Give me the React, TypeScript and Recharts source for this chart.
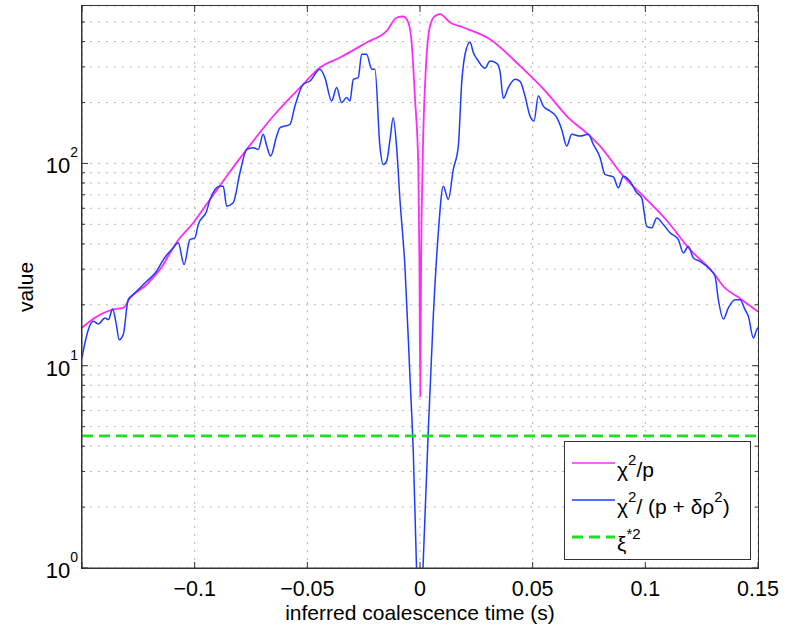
import React from 'react';
import { LineChart, Line, XAxis, YAxis, CartesianGrid, Label } from 'recharts';

// chi^2/p  (magenta)
const magentaX = [
  -0.15, -0.1465, -0.1368, -0.1317, -0.1287, -0.1213, -0.1154, -0.108, -0.1006, -0.0932,
  -0.0858, -0.0769, -0.0651, -0.0518, -0.0444, -0.0355, -0.0237, -0.0148, -0.0103, -0.0074,
  -0.0052, -0.0037, -0.0022, -0.00075, -0.00027, 0.00013, 0.00049, 0.00084, 0.00146, 0.00266,
  0.00444, 0.00666, 0.00888, 0.01332, 0.01922, 0.03107, 0.04439, 0.05624, 0.06511, 0.07546,
  0.07989, 0.09023, 0.10062, 0.1095, 0.11984, 0.13018, 0.13462, 0.14203, 0.15,
];
const magentaY = [
  15.4, 16.6, 18.9, 19.3, 21.6, 25.2, 29.9, 40.8, 50.9, 66.3,
  86.5, 117.3, 171.5, 246.1, 297.7, 333.7, 395.9, 451.9, 526.3, 532.3,
  497.2, 395.9, 207.5, 97.0, 33.5, 7.05, 33.5, 66.3, 141.9, 303.2,
  478.3, 536.0, 546.5, 497.2, 469.6, 411.1, 303.2, 223.9, 171.5, 136.5,
  121.8, 86.5, 66.3, 52.2, 37.5, 28.8, 24.7, 21.5, 18.5,
];

// chi^2/(p + delta rho^2)  (blue)
const blueX = [
  -0.15, -0.1487, -0.1472, -0.145, -0.1428, -0.1398, -0.1383, -0.1364, -0.1349, -0.1335,
  -0.1317, -0.1295, -0.1273, -0.1213, -0.1169, -0.1139, -0.1095, -0.1073, -0.1047, -0.1021,
  -0.0999, -0.0984, -0.0947, -0.0932, -0.0888, -0.0873, -0.0858, -0.0829, -0.0799, -0.0769,
  -0.074, -0.0718, -0.0696, -0.068, -0.0663, -0.0636, -0.0621, -0.0577, -0.0555, -0.0518,
  -0.0488, -0.0444, -0.0422, -0.0392, -0.037, -0.0348, -0.0325, -0.0311, -0.0296, -0.0274,
  -0.0259, -0.0237, -0.0214, -0.02, -0.0178, -0.0163, -0.0148, -0.0133, -0.0119, -0.0103,
  -0.0089, -0.00666, -0.00444, -0.00297, -0.00155, -0.00013, 0.00133, 0.00368, 0.0059, 0.00812,
  0.01034, 0.01256, 0.01478, 0.017, 0.01851, 0.02, 0.0222, 0.02366, 0.02588, 0.02885,
  0.03107, 0.03404, 0.03551, 0.03697, 0.03919, 0.04217, 0.04439, 0.0466, 0.04882, 0.0506,
  0.05251, 0.05473, 0.0577, 0.06067, 0.06289, 0.06511, 0.06733, 0.07102, 0.0747, 0.07692,
  0.07989, 0.08211, 0.0858, 0.08802, 0.09023, 0.0932, 0.09618, 0.0984, 0.10062, 0.10284,
  0.10506, 0.10799, 0.11096, 0.11465, 0.11687, 0.11909, 0.1213, 0.12428, 0.12872, 0.13094,
  0.1324, 0.13462, 0.13684, 0.13981, 0.14203, 0.14425, 0.14572, 0.14794, 0.14945, 0.15,
];
const blueY = [
  10.96, 12.95, 15.07, 16.57, 16.09, 17.22, 16.9, 19.09, 16.27, 13.45,
  14.24, 21.22, 22.46, 26.15, 29.3, 33.48, 38.25, 40.5, 31.62, 42.05,
  42.87, 49.9, 58.06, 66.3, 77.2, 77.2, 61.45, 63.9, 89.9, 117.3,
  119.6, 117.3, 139.2, 121.8, 108.7, 136.5, 150.2, 156.1, 192.1, 246.1,
  255.5, 292.0, 265.6, 203.4, 237.1, 199.8, 211.5, 203.4, 260.5, 265.6,
  346.4, 346.4, 292.0, 292.0, 121.8, 98.9, 102.7, 131.5, 168.4, 117.3,
  66.3, 30.6, 8.72, 3.71, 1.0, 0.39, 1.0, 4.77, 17.54, 45.4,
  77.2, 66.3, 93.4, 121.8, 250.8, 346.4, 398.6, 353.2, 321.0, 295.3,
  321.0, 312.6, 285.3, 209.8, 237.1, 260.5, 254.6, 215.4, 171.5, 162.0,
  215.4, 192.1, 181.5, 169.0, 147.3, 121.8, 139.2, 136.5, 139.2, 124.2,
  107.1, 88.2, 85.8, 75.8, 86.5, 81.7, 71.6, 67.6, 48.9, 48.05,
  53.8, 49.9, 45.4, 42.05, 36.1, 38.96, 34.1, 32.8, 29.87, 27.7,
  21.2, 17.03, 19.3, 21.2, 21.2, 18.93, 17.54, 13.71, 15.07, 15.4,
];

// xi*^2 threshold (green dashed)
const thresholdX = [-0.15, 0.15];
const thresholdValue = 4.5;

const xTicks = [-0.15, -0.1, -0.05, 0, 0.05, 0.1, 0.15];
const xTickLabels = ['', '\u22120.1', '\u22120.05', '0', '0.05', '0.1', '0.15'];
const yTicks = [
  1, 2, 3, 4, 5, 6, 7, 8, 9,
  10, 20, 30, 40, 50, 60, 70, 80, 90,
  100, 200, 300, 400, 500,
];
const yMajorTicks = [1, 10, 100];
const yMajorExponents = ['0', '1', '2'];
const xDomain = [-0.15, 0.15];
const yDomain = [1, 600];

const xTitle = 'inferred coalescence time (s)';
const yTitle = 'value';

const MAGENTA = '#ff2cf6';
const BLUE = '#1e3cff';
const GREEN = '#1ee01e';
const AXIS = '#333333';
const FONT = '"Liberation Sans", Arial, Helvetica, sans-serif';

// layout constants (plot box)
const CHART_W = 788;
const CHART_H = 626;
const Y_AXIS_W = 82;
const X_AXIS_H = 58;
const MARGIN = { top: 6, right: 30, bottom: 0, left: 0 };
const PLOT_LEFT = MARGIN.left + Y_AXIS_W;
const PLOT_TOP = MARGIN.top;
const PLOT_RIGHT = CHART_W - MARGIN.right;
const PLOT_BOTTOM = CHART_H - MARGIN.bottom - X_AXIS_H;

const magentaData = magentaX.map((x, i) => ({ x, y: magentaY[i] }));
const blueData = blueX.map((x, i) => ({ x, y: blueY[i] }));
const thresholdData = thresholdX.map((x) => ({ x, y: thresholdValue }));

const BottomTick = (props: any) => {
  const { x, y, payload } = props;
  const idx = xTicks.indexOf(payload.value);
  const label = idx >= 0 ? xTickLabels[idx] : '';
  return (
    <g>
      <line x1={x} y1={y} x2={x} y2={y - 6} stroke={AXIS} strokeWidth={1} />
      <line x1={x} y1={PLOT_TOP} x2={x} y2={PLOT_TOP + 6} stroke={AXIS} strokeWidth={1} />
      <text x={x} y={y + 28} textAnchor="middle" fontSize={21.5} fontFamily={FONT} fill="#000">
        {label}
      </text>
    </g>
  );
};

const LeftTick = (props: any) => {
  const { x, y, payload } = props;
  const mi = yMajorTicks.indexOf(payload.value);
  const len = mi >= 0 ? 6 : 3;
  return (
    <g>
      <line x1={x} y1={y} x2={x + len} y2={y} stroke={AXIS} strokeWidth={1} />
      <line x1={PLOT_RIGHT} y1={y} x2={PLOT_RIGHT - len} y2={y} stroke={AXIS} strokeWidth={1} />
      {mi >= 0 && (
        <text x={x - 4} y={y + 10} textAnchor="end" fontFamily={FONT} fill="#000">
          <tspan fontSize={22}>10</tspan>
          <tspan fontSize={14} dy={-16}>{yMajorExponents[mi]}</tspan>
        </text>
      )}
    </g>
  );
};

const XTitle = (props: any) => {
  const vb = props.viewBox;
  return (
    <text x={vb.x + vb.width / 2} y={vb.y + 52} textAnchor="middle" fontSize={21} fontFamily={FONT} fill="#000">
      {xTitle}
    </text>
  );
};

const YTitle = (props: any) => {
  const vb = props.viewBox;
  const cx = vb.x + 33;
  const cy = vb.y + vb.height / 2;
  return (
    <text x={cx} y={cy} transform={`rotate(-90 ${cx} ${cy})`} textAnchor="middle" fontSize={21} fontFamily={FONT} fill="#000">
      {yTitle}
    </text>
  );
};

const PlotFrame = () => (
  <div
    style={{
      position: 'absolute',
      left: PLOT_LEFT - 1,
      top: PLOT_TOP - 1,
      width: PLOT_RIGHT - PLOT_LEFT + 2,
      height: PLOT_BOTTOM - PLOT_TOP + 2,
      border: `1.5px solid ${AXIS}`,
      boxSizing: 'border-box',
      pointerEvents: 'none',
    }}
  />
);

const LegendBox = () => {
  const rows = [
    { color: MAGENTA, dash: undefined as string | undefined, width: 1.6, parts: [['\u03c7', 'n'], ['2', 's'], ['/p', 'n']] },
    { color: BLUE, dash: undefined as string | undefined, width: 1.4, parts: [['\u03c7', 'n'], ['2', 's'], ['/ (p + \u03b4\u03c1', 'n'], ['2', 's'], [')', 'd']] },
    { color: GREEN, dash: '11 6', width: 2.8, parts: [['\u03be', 'n'], ['*2', 's']] },
  ];
  const rowY = [22, 59, 96];
  return (
    <svg width={188} height={120} style={{ position: 'absolute', left: 564, top: 441 }}>
      <rect x={0.5} y={0.5} width={186} height={118} fill="#fff" stroke={AXIS} strokeWidth={1} />
      {rows.map((r, i) => (
        <g key={i}>
          <line x1={8} x2={51} y1={rowY[i]} y2={rowY[i]} stroke={r.color} strokeWidth={r.width} strokeDasharray={r.dash} />
          <text x={53} y={rowY[i] + 14} fontFamily={FONT} fontSize={21} fill="#000">
            {r.parts.map((p, j) => {
              const prev = j > 0 ? r.parts[j - 1][1] : 'n';
              let dy = 0;
              if (p[1] === 's' && prev !== 's') dy = -12;
              if (p[1] !== 's' && prev === 's') dy = 12;
              return (
                <tspan key={j} dy={dy} fontSize={p[1] === 's' ? 15 : 21}>
                  {p[0]}
                </tspan>
              );
            })}
          </text>
        </g>
      ))}
    </svg>
  );
};

export default function App() {
  return (
    <div style={{ position: 'absolute', left: 0, top: 0, width: CHART_W, height: CHART_H, background: '#fff' }}>
      <LineChart width={CHART_W} height={CHART_H} margin={MARGIN}>
        <CartesianGrid stroke="#b5b5b5" strokeDasharray="2 6" strokeWidth={1} />
        <XAxis
          dataKey="x"
          type="number"
          domain={xDomain}
          ticks={xTicks}
          allowDataOverflow
          height={X_AXIS_H}
          tickSize={0}
          tickMargin={0}
          tickLine={false}
          tick={BottomTick}
          stroke={AXIS}
          interval={0}
        >
          <Label content={XTitle} />
        </XAxis>
        <YAxis
          dataKey="y"
          type="number"
          scale="log"
          domain={yDomain}
          ticks={yTicks}
          allowDataOverflow
          width={Y_AXIS_W}
          tickSize={0}
          tickMargin={0}
          tickLine={false}
          tick={LeftTick}
          stroke={AXIS}
          interval={0}
        >
          <Label content={YTitle} />
        </YAxis>
        <Line data={magentaData} dataKey="y" type="monotone" stroke={MAGENTA} strokeWidth={1.8} dot={false} isAnimationActive={false} />
        <Line data={blueData} dataKey="y" type="monotone" stroke={BLUE} strokeWidth={1.5} dot={false} isAnimationActive={false} />
        <Line data={thresholdData} dataKey="y" type="linear" stroke={GREEN} strokeWidth={2.8} strokeDasharray="11 6" dot={false} isAnimationActive={false} />
      </LineChart>
      <PlotFrame />
      <LegendBox />
    </div>
  );
}
